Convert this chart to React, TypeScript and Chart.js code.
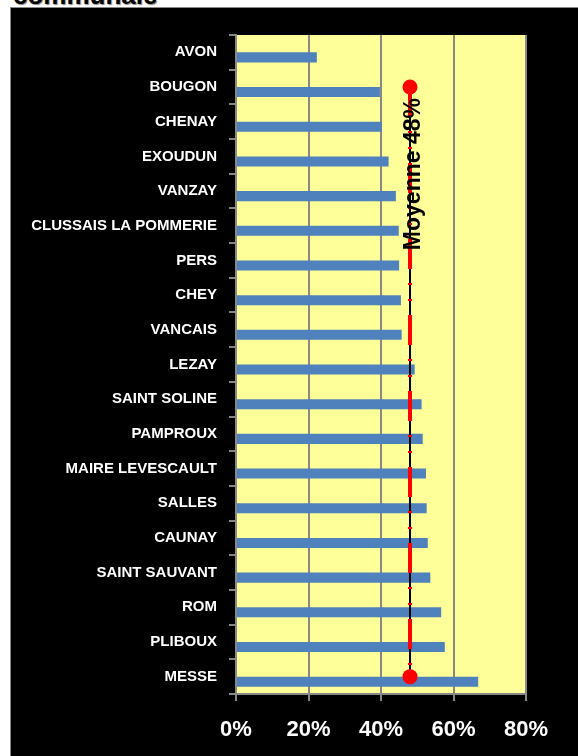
import React, { useEffect, useRef } from "react";
import { Chart, registerables } from "chart.js";

Chart.register(...registerables);

const titleText = "communale";
const communes = [
  "AVON",
  "BOUGON",
  "CHENAY",
  "EXOUDUN",
  "VANZAY",
  "CLUSSAIS LA POMMERIE",
  "PERS",
  "CHEY",
  "VANCAIS",
  "LEZAY",
  "SAINT SOLINE",
  "PAMPROUX",
  "MAIRE LEVESCAULT",
  "SALLES",
  "CAUNAY",
  "SAINT SAUVANT",
  "ROM",
  "PLIBOUX",
  "MESSE",
];
const shares = [
  0.223, 0.397, 0.402, 0.421, 0.441, 0.449, 0.45, 0.455, 0.457, 0.493, 0.512,
  0.515, 0.524, 0.526, 0.529, 0.536, 0.566, 0.576, 0.668,
];
const averageValue = 0.48;
const averageLine = [
  null, 0.48, 0.48, 0.48, 0.48, 0.48, 0.48, 0.48, 0.48, 0.48, 0.48, 0.48, 0.48,
  0.48, 0.48, 0.48, 0.48, 0.48, 0.48,
];
const averageLabel = "Moyenne 48%";
const xMin = 0;
const xMax = 0.8;
const xStep = 0.2;

const FONT = "'Liberation Sans', Arial, sans-serif";

export default function App() {
  const canvasRef = useRef<HTMLCanvasElement | null>(null);

  useEffect(() => {
    const canvas = canvasRef.current;
    if (!canvas) return;

    const firstIdx = averageLine.findIndex((v) => v !== null);
    const lastIdx = averageLine.length - 1;
    const pointRadii = averageLine.map((v, i) =>
      v !== null && (i === firstIdx || i === lastIdx) ? 7.5 : 0
    );

    const bgPlugin = {
      id: "plotBg",
      beforeDraw(chart: any) {
        const { ctx, chartArea } = chart;
        ctx.save();
        ctx.fillStyle = "#FFFF99";
        ctx.fillRect(
          chartArea.left,
          chartArea.top,
          chartArea.right - chartArea.left,
          chartArea.bottom - chartArea.top
        );
        ctx.restore();
      },
    };

    const labelPlugin = {
      id: "avgLabel",
      afterDatasetsDraw(chart: any) {
        const { ctx, scales } = chart;
        const x = scales.x.getPixelForValue(averageValue);
        const y = scales.y.getPixelForValue(firstIdx) + 11;
        ctx.save();
        ctx.translate(x + 9.5, y);
        ctx.rotate(-Math.PI / 2);
        ctx.font = `bold 23px ${FONT}`;
        ctx.fillStyle = "#000";
        ctx.textAlign = "right";
        ctx.textBaseline = "alphabetic";
        ctx.fillText(averageLabel, 0, 0);
        ctx.restore();
      },
    };

    const chart = new Chart(canvas, {
      type: "bar",
      data: {
        labels: communes,
        datasets: [
          {
            type: "line",
            data: averageLine,
            borderColor: "#FF0000",
            borderWidth: 4,
            borderDash: [30, 14, 2, 14, 2, 14],
            borderCapStyle: "butt",
            pointRadius: pointRadii,
            pointBackgroundColor: "#FF0000",
            pointBorderWidth: 0,
            pointHoverRadius: pointRadii,
            fill: false,
            order: 0,
          } as any,
          {
            type: "line",
            data: averageLine,
            borderColor: "#000000",
            borderWidth: 2,
            pointRadius: 0,
            fill: false,
            order: 1,
          } as any,
          {
            type: "bar",
            data: communes.map(() => null),
            backgroundColor: "rgba(0,0,0,0)",
            order: 2,
          } as any,
          {
            type: "bar",
            data: shares,
            backgroundColor: "#4F81BD",
            borderWidth: 0,
            order: 3,
          } as any,
        ],
      },
      options: {
        indexAxis: "y",
        responsive: false,
        animation: false,
        barPercentage: 1,
        categoryPercentage: 0.58,
        layout: { padding: { top: 27, right: 52, bottom: 0, left: 0 } },
        plugins: {
          legend: { display: false },
          tooltip: { enabled: false },
        },
        scales: {
          x: {
            type: "linear",
            min: xMin,
            max: xMax,
            position: "bottom",
            ticks: {
              stepSize: xStep,
              callback: (v: any) => Math.round(Number(v) * 100) + "%",
              color: "#FFFFFF",
              font: { family: FONT, size: 22, weight: "bold" },
              padding: 16,
            },
            grid: { color: "#888888", lineWidth: 2, tickLength: 7 },
            border: { color: "#888888", width: 2 },
            afterFit: (s: any) => {
              s.height = 62;
            },
          },
          y: {
            type: "category",
            ticks: {
              color: "#FFFFFF",
              font: { family: FONT, size: 15, weight: "bold" },
              padding: 12,
              autoSkip: false,
            },
            grid: {
              drawOnChartArea: false,
              color: "#888888",
              lineWidth: 2,
              tickLength: 7,
              offset: true,
            },
            border: { color: "#888888", width: 2 },
            afterFit: (s: any) => {
              s.width = 225;
            },
          },
        },
      } as any,
      plugins: [bgPlugin, labelPlugin],
    });

    return () => chart.destroy();
  }, []);

  return (
    <div
      style={{
        position: "absolute",
        left: 0,
        top: 0,
        width: 578,
        height: 756,
        background: "#FFFFFF",
        overflow: "hidden",
      }}
    >
      <div
        style={{
          position: "absolute",
          left: 13,
          top: -18,
          fontFamily: FONT,
          fontWeight: "bold",
          fontSize: 26,
          lineHeight: "26px",
          color: "#000",
          textShadow: "1px 1px 1px #888",
          whiteSpace: "nowrap",
        }}
      >
        {titleText}
      </div>
      <div
        style={{
          position: "absolute",
          left: 10,
          top: 7,
          width: 568,
          height: 749,
          boxSizing: "border-box",
          borderLeft: "1px solid #888",
          borderTop: "1px solid #888",
          background: "#000000",
        }}
      >
        <canvas
          ref={canvasRef}
          width={567}
          height={748}
          style={{ display: "block", width: 567, height: 748 }}
        />
      </div>
    </div>
  );
}
